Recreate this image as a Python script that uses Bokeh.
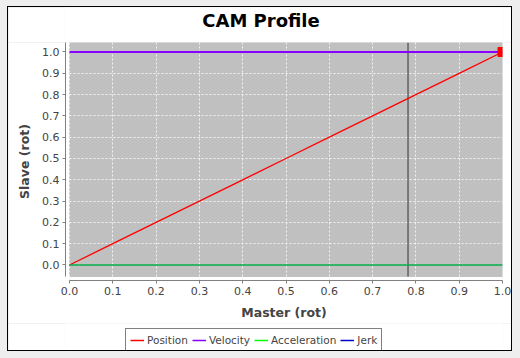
from bokeh.plotting import figure
from bokeh.layouts import column
from bokeh.models import (FixedTicker, NumeralTickFormatter, BoxAnnotation,
                          Legend, LegendItem, Range1d, Label)
from bokeh.embed import file_html
from bokeh.resources import INLINE

# ---- data ----
master = [0.0, 0.1, 0.2, 0.3, 0.4, 0.5, 0.6, 0.7, 0.8, 0.9, 1.0]
position = [0.0, 0.1, 0.2, 0.3, 0.4, 0.5, 0.6, 0.7, 0.8, 0.9, 1.0]
velocity = [1.0, 1.0, 1.0, 1.0, 1.0, 1.0, 1.0, 1.0, 1.0, 1.0, 1.0]
acceleration = [0.0, 0.0, 0.0, 0.0, 0.0, 0.0, 0.0, 0.0, 0.0, 0.0, 0.0]
jerk = [0.0, 0.0, 0.0, 0.0, 0.0, 0.0, 0.0, 0.0, 0.0, 0.0, 0.0]
cursor_master = 0.7818
current_master = [1.0]
current_slave = [1.0]
x_ticks = [0.0, 0.1, 0.2, 0.3, 0.4, 0.5, 0.6, 0.7, 0.8, 0.9, 1.0]
y_ticks = [0.0, 0.1, 0.2, 0.3, 0.4, 0.5, 0.6, 0.7, 0.8, 0.9, 1.0]
series_names = ["Position", "Velocity", "Acceleration", "Jerk"]
series_colors = ["#FF0000", "#8800FF", "#00FF00", "#0000CC"]
title_text = "CAM Profile"

# plot-area extents (data units); ranges also hold the 4px axis offset gap
X_START, X_END = -0.00924, 1.0
Y_START, Y_END = -0.07277, 1.0446
X_PLOT_LEFT = 0.0
Y_PLOT_BOTTOM = -0.054

FONT = "DejaVu Sans"
TXT = "#444444"

# ---- title strip ----
t = figure(width=503, height=35, output_backend="svg", toolbar_location=None,
           title=None, x_range=Range1d(0, 437), y_range=Range1d(0, 35),
           x_axis_type=None, y_axis_type=None,
           min_border_left=0, min_border_right=0, min_border_top=0, min_border_bottom=0,
           background_fill_color="white", border_fill_color="white",
           outline_line_color=None)
t.grid.visible = False
t.add_layout(Label(x=195.5, y=22, text=title_text, text_align="center",
                   text_baseline="alphabetic", text_font=FONT, text_font_size="18px",
                   text_font_style="bold", text_color="black"))

# ---- main plot ----
p = figure(width=503, height=281, output_backend="svg", toolbar_location=None,
           title=None,
           x_range=Range1d(X_START, X_END), y_range=Range1d(Y_START, Y_END),
           min_border_left=57, min_border_right=9, min_border_top=0, min_border_bottom=43,
           background_fill_color="white", border_fill_color="white",
           outline_line_color=None)

# plot area background
p.add_layout(BoxAnnotation(left=X_PLOT_LEFT, right=X_END, bottom=Y_PLOT_BOTTOM,
                           top=Y_END, fill_color="#C0C0C0", fill_alpha=1,
                           line_color="#808080", line_width=1, level="image"))

# grids
for g, tk in ((p.xgrid, x_ticks), (p.ygrid, y_ticks)):
    g.ticker = FixedTicker(ticks=tk)
    g.grid_line_color = "#F2F2F2"
    g.grid_line_dash = "2 2"
    g.grid_line_width = 1
    g.level = "underlay"

# axes
p.xaxis.ticker = FixedTicker(ticks=x_ticks)
p.yaxis.ticker = FixedTicker(ticks=y_ticks)
p.xaxis.bounds = (X_PLOT_LEFT, X_END)
p.yaxis.bounds = (Y_PLOT_BOTTOM, Y_END)
p.xaxis.axis_label = "Master (rot)"
p.yaxis.axis_label = "Slave (rot)"
for ax in (p.xaxis, p.yaxis):
    ax.formatter = NumeralTickFormatter(format="0.0")
    ax.axis_line_color = "#808080"
    ax.major_tick_line_color = "#808080"
    ax.major_tick_in = 0
    ax.major_tick_out = 3
    ax.minor_tick_line_color = None
    ax.major_label_text_font = FONT
    ax.major_label_text_font_size = "11px"
    ax.major_label_text_color = TXT
    ax.major_label_standoff = 3
    ax.axis_label_text_font = FONT
    ax.axis_label_text_font_size = "12.5px"
    ax.axis_label_text_font_style = "bold"
    ax.axis_label_text_color = TXT
    ax.axis_label_standoff = 7

# cursor line
p.line(x=[cursor_master, cursor_master], y=[Y_PLOT_BOTTOM, Y_END],
       line_color="#333333", line_width=1)

p.line(master, position, line_color=series_colors[0], line_width=1.3)
p.line(master, velocity, line_color=series_colors[1], line_width=2)
p.line(master, jerk, line_color=series_colors[3], line_width=1)
p.line(master, acceleration, line_color=series_colors[2], line_width=1)
p.scatter(current_master, current_slave, marker="square", size=9,
          fill_color="#FF0000", line_color="#FF0000")

# ---- legend strip ----
q = figure(width=503, height=27, output_backend="svg", toolbar_location=None,
           title=None, x_range=Range1d(10, 11), y_range=Range1d(10, 11),
           x_axis_type=None, y_axis_type=None,
           min_border_left=0, min_border_right=0, min_border_top=0, min_border_bottom=0,
           background_fill_color="white", border_fill_color="white",
           outline_line_color=None)
q.grid.visible = False
series_data = [position, velocity, acceleration, jerk]
items = []
for name, col, ys in zip(series_names, series_colors, series_data):
    r = q.line(master, ys, line_color=col, line_width=1.5)
    items.append(LegendItem(label=name, renderers=[r]))

legend = Legend(items=items, orientation="horizontal", location=(60, -1),
                border_line_color="black", border_line_width=1,
                background_fill_color="white", background_fill_alpha=1,
                label_text_font=FONT, label_text_font_size="10.5px",
                label_text_color=TXT, glyph_width=14, glyph_height=12,
                label_standoff=3, spacing=4, padding=4, margin=0,
                label_height=13)
q.add_layout(legend, "center")

layout = column(t, p, q, spacing=0)
layout.styles = {"outline": "1px solid black"}

html = file_html(layout, INLINE)
html = html.replace("</head>",
                    "<style>body{background:#eeeeee; padding:7px 0 0 8px !important;}</style></head>", 1)
open("out.html", "w").write(html)
